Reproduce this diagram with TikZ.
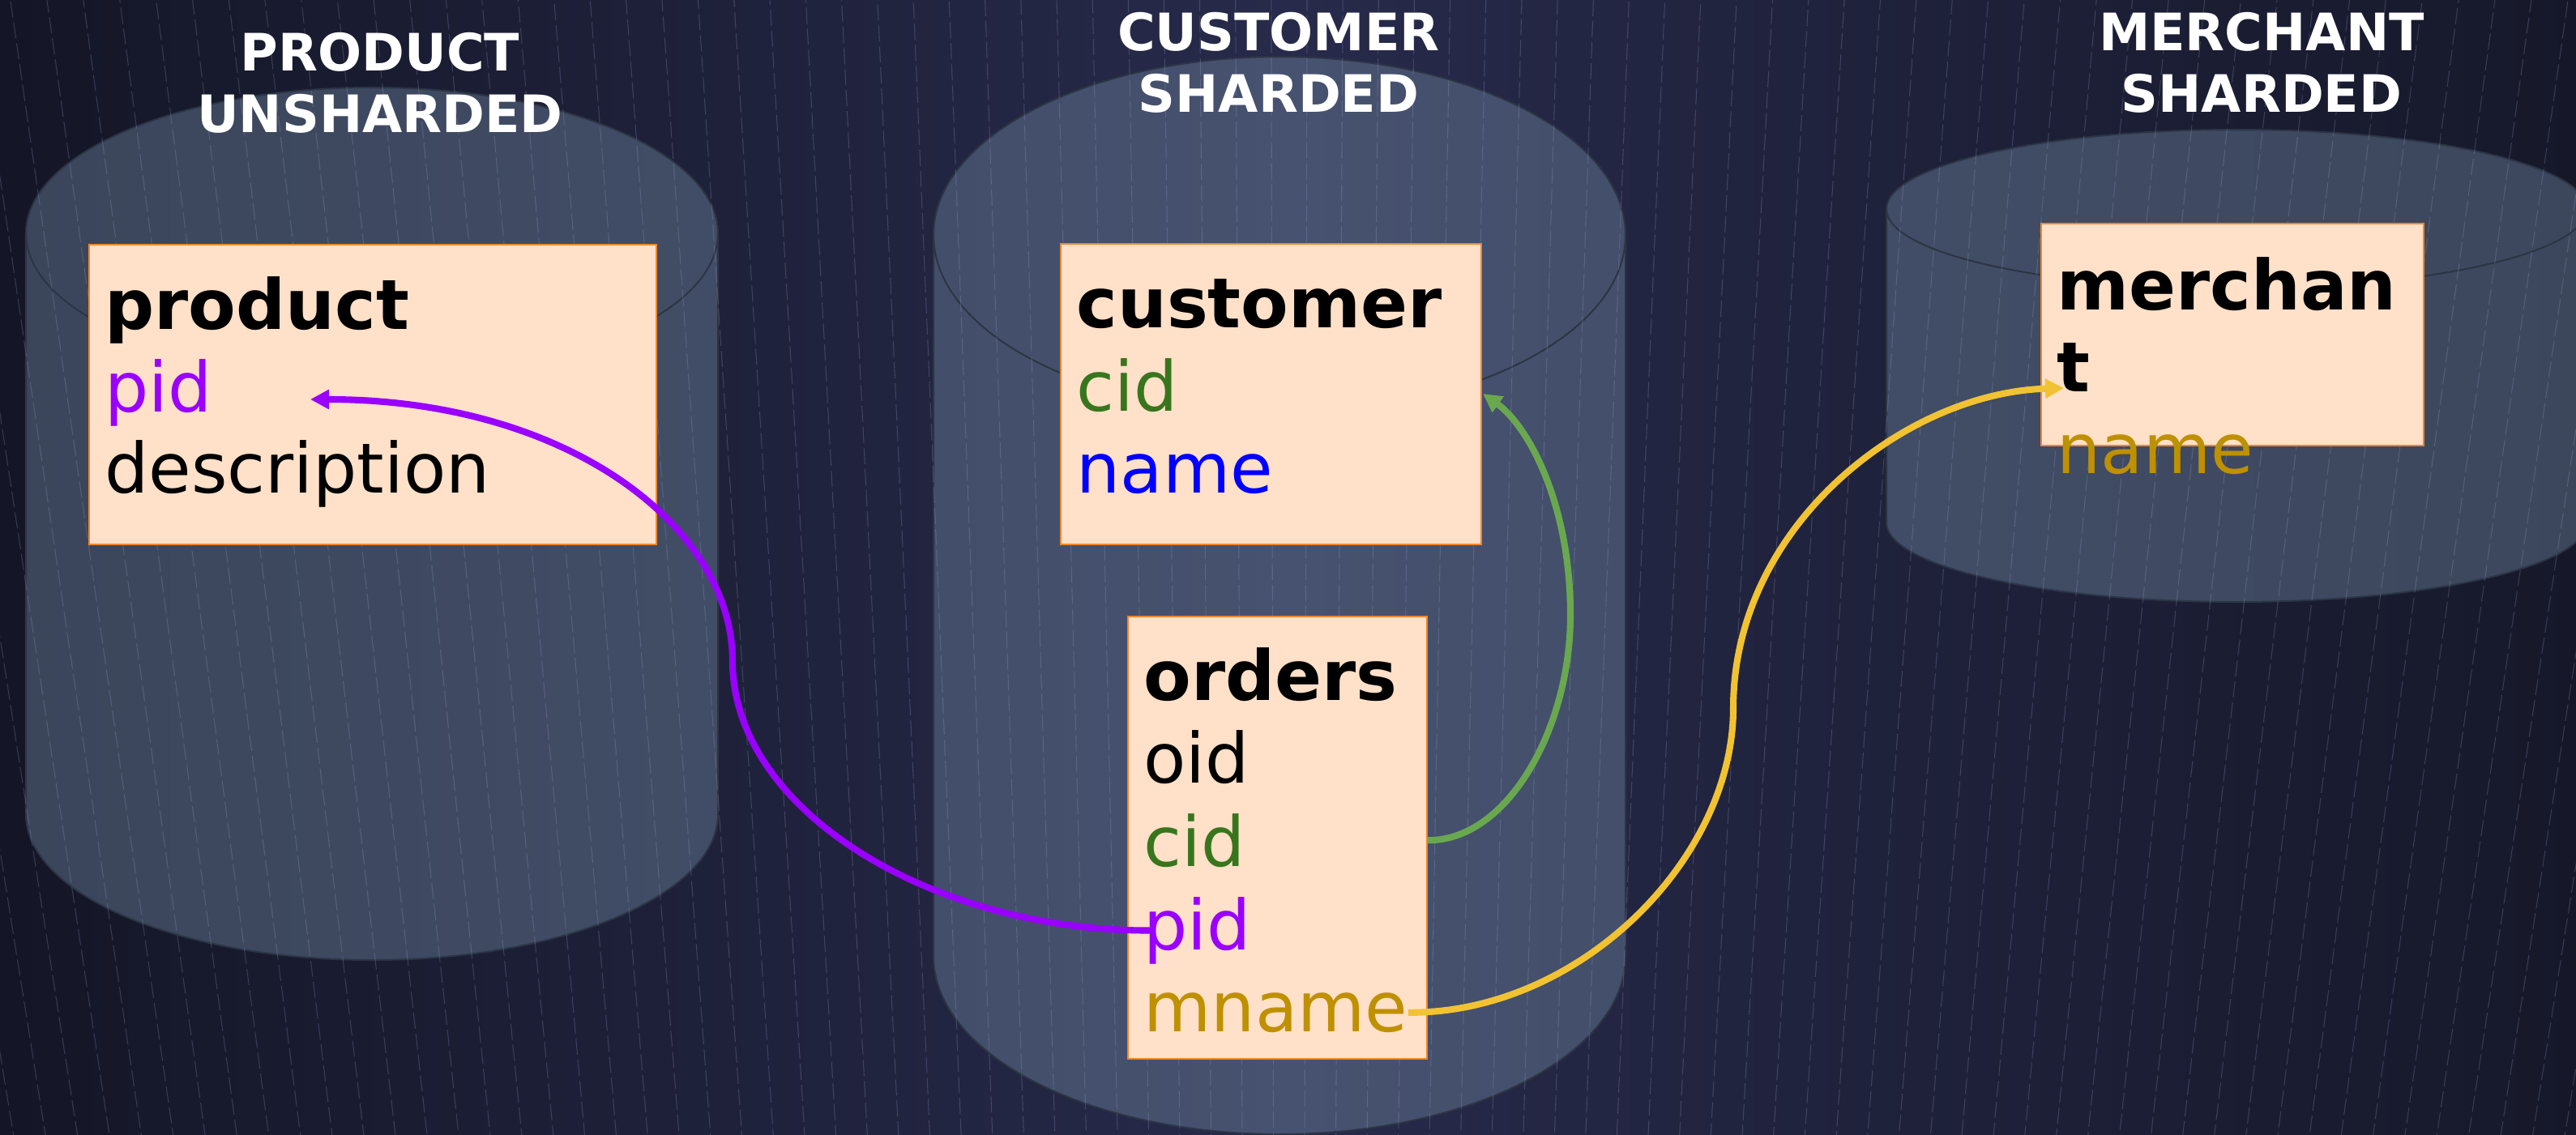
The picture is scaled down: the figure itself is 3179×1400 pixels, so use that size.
\documentclass[tikz,border=0pt]{standalone}
\usepackage{fontspec}
\setmainfont{DejaVu Sans}
\usepackage{tikz}
\usetikzlibrary{arrows.meta,positioning}
\usepackage{xcolor}
\definecolor{bgdark}{RGB}{20,22,39}
\definecolor{bgmid}{RGB}{39,42,74}
\definecolor{bgright}{RGB}{22,24,42}
\definecolor{streak}{RGB}{160,165,210}
\definecolor{dbfill}{RGB}{118,142,169}
\definecolor{dbline}{RGB}{44,53,69}
\definecolor{tblfill}{RGB}{255,224,200}
\definecolor{tblline}{RGB}{240,134,42}
\definecolor{keypurple}{RGB}{153,0,255}
\definecolor{keygreen}{RGB}{56,118,29}
\definecolor{keyblue}{RGB}{0,0,255}
\definecolor{keygold}{RGB}{191,144,0}
\definecolor{linkgreen}{RGB}{106,168,79}
\definecolor{linkgold}{RGB}{241,194,50}
\tikzstyle{streakline} = [draw=streak, opacity=0.25, line width=0.3pt, dash pattern=on 0.2cm off 0.06cm]
\tikzstyle{dbcyl} = [fill=dbfill, fill opacity=0.4, draw=dbline, line width=0.02cm]
\tikzstyle{dbtitle} = [align=center, inner sep=0, text=white, font=\fontsize{18.1}{21.6}\selectfont\bfseries]
\tikzstyle{tablebox} = [rectangle, draw=tblline, fill=tblfill, line width=0.02cm]
\tikzstyle{field} = [anchor=base west, inner sep=0, font=\fontsize{24.3}{28.7}\selectfont]
\tikzstyle{tablename} = [field, font=\fontsize{24.3}{28.7}\selectfont\bfseries]
\tikzstyle{link} = [line width=2.3pt, -{Triangle[length=0.23cm,width=0.23cm]}]

\begin{document}
\begin{tikzpicture}[x=0.01cm, y=-0.01cm]
    \useasboundingbox (0,0) rectangle (3179,1400);

    % Background
    \shade[left color=bgdark, right color=bgright, middle color=bgmid] (0,0) rectangle (3179,1400);

    % Databases
    \foreach \cx/\cyt/\cyb/\crx/\cry in {459/288/1005/427/180, 1579/290/1180/427/220, 2760/258/645/432/98} {
        \path[dbcyl] (\cx-\crx,\cyt) -- (\cx-\crx,\cyb)
            arc[start angle=180, end angle=0, x radius=\crx, y radius=\cry] -- (\cx+\crx,\cyt)
            arc[start angle=0, end angle=-180, x radius=\crx, y radius=\cry] -- cycle;
        \draw[dbline, line width=0.02cm] (\cx-\crx,\cyt) arc[start angle=180, end angle=0, x radius=\crx, y radius=\cry];
    }

    % Streaks
    \begin{scope}
        \clip (0,0) rectangle (3179,1400);
        \foreach \a in {-10,-9.77,...,10}
            \draw[streakline] (1590,11000) ++(-90+\a:9400) -- ++(-90+\a:1850);
    \end{scope}

    % Titles
    \node[dbtitle] (prodtitle) at (469,102) {PRODUCT\\UNSHARDED};
    \node[dbtitle] (custtitle) at (1578,77) {CUSTOMER\\SHARDED};
    \node[dbtitle] (merchtitle) at (2791,77) {MERCHANT\\SHARDED};

    % Product table
    \node[tablebox, minimum width=7cm, minimum height=3.7cm] (product) at (460,487) {};
    \node[tablename] (ptitle) at ([xshift=0.2cm, yshift=-1.06cm]product.north west) {product};
    \node[field, text=keypurple] (ppid) at ([yshift=-1.01cm]ptitle.base west) {pid};
    \node[field] (pdesc) at ([yshift=-1.005cm]ppid.base west) {description};

    % Customer table
    \node[tablebox, minimum width=5.19cm, minimum height=3.71cm] (customer) at (1568.5,486.5) {};
    \node[tablename] (ctitle) at ([xshift=0.2cm, yshift=-1.05cm]customer.north west) {customer};
    \node[field, text=keygreen] (ccid) at ([yshift=-1.02cm]ctitle.base west) {cid};
    \node[field, text=keyblue] (cname) at ([yshift=-1.01cm]ccid.base west) {name};

    % Orders table
    \node[tablebox, minimum width=3.69cm, minimum height=5.46cm] (orders) at (1576.5,1034) {};
    \node[tablename] (otitle) at ([xshift=0.2cm, yshift=-1.05cm]orders.north west) {orders};
    \node[field] (ooid) at ([yshift=-1.02cm]otitle.base west) {oid};
    \node[field, text=keygreen] (ocid) at ([yshift=-1.02cm]ooid.base west) {cid};
    \node[field, text=keypurple] (opid) at ([yshift=-1.03cm]ocid.base west) {pid};
    \node[field, text=keygold] (omname) at ([yshift=-1.01cm]opid.base west) {mname};

    % Merchant table
    \node[tablebox, minimum width=4.72cm, minimum height=2.74cm] (merchant) at (2755,413) {};
    \node[tablename, align=left] (mtitle) at ([xshift=0.2cm, yshift=-2.08cm]merchant.north west) {merchan\\t};
    \node[field, text=keygold] (mname) at ([yshift=-1.01cm]mtitle.base west) {name};

    % Links
    \coordinate (ppidend) at (383,493);
    \coordinate (ccidend) at (1830,486);
    \coordinate (mnameend) at (2547,479);
    \draw[link, draw=keypurple] ([xshift=0.1cm]opid.west)
        .. controls (1150,1150) and (904,1000) .. (904,816)
        .. controls (904,650) and (700,493) .. (ppidend);
    \draw[link, draw=linkgreen] (orders.east |- ocid.west)
        .. controls (1860,1038) and (1938,900) .. (1938,759)
        .. controls (1938,620) and (1885,525) .. (ccidend);
    \draw[link, draw=linkgold] (omname.east)
        .. controls (1950,1251) and (2139,1060) .. (2139,874)
        .. controls (2139,650) and (2350,485) .. (mnameend);
\end{tikzpicture}
\end{document}
